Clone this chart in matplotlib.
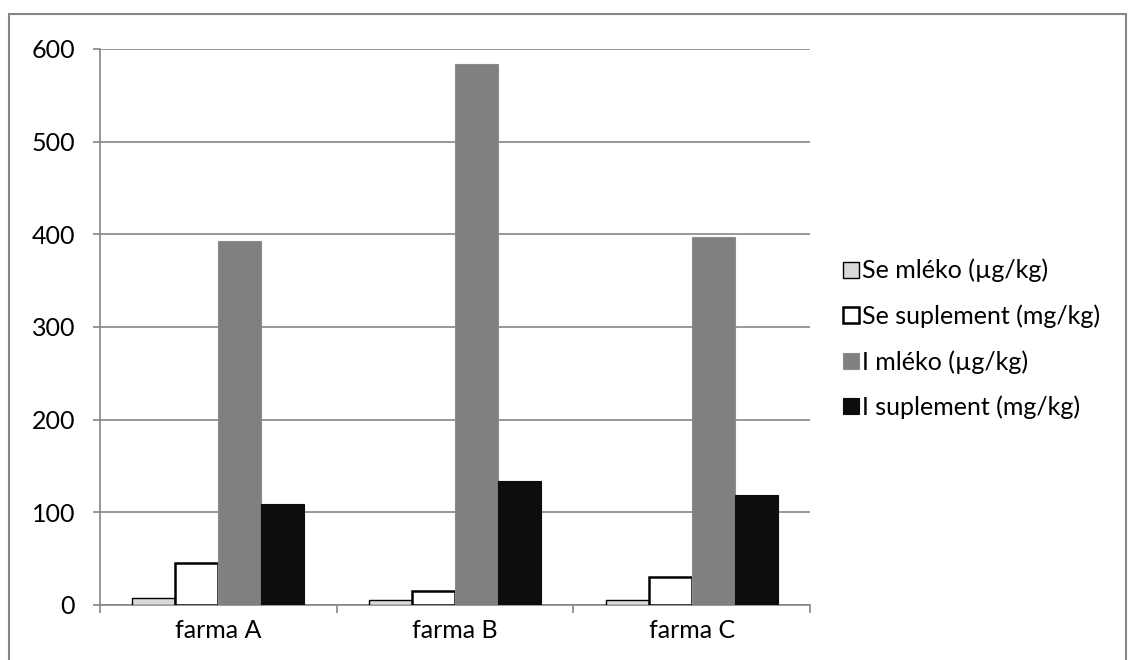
import matplotlib
matplotlib.use("Agg")
import matplotlib.pyplot as plt
from matplotlib.patches import Rectangle
import numpy as np

plt.rcParams['font.family'] = ['Lato', 'DejaVu Sans']

categories = ["farma A", "farma B", "farma C"]
series_names = ["Se mléko (µg/kg)", "Se suplement (mg/kg)", "I mléko (µg/kg)", "I suplement (mg/kg)"]
se_mleko = [8, 5, 5]
se_suplement = [45, 15, 30]
i_mleko = [393, 584, 397]
i_suplement = [109, 134, 119]
y_ticks = [0, 100, 200, 300, 400, 500, 600]

series = [se_mleko, se_suplement, i_mleko, i_suplement]
faces = ["#D9D9D9", "#FFFFFF", "#808080", "#0D0D0D"]
edges = ["#000000", "#000000", "#8C8C8C", "#0D0D0D"]
lws = [1.0, 1.8, 0.8, 0.8]

FS = 18

fig = plt.figure(figsize=(11.34, 6.6), dpi=100)
fig.patches.append(Rectangle((9/1134, -0.1), (1126-9)/1134, 1.1 - 14/660,
                             transform=fig.transFigure, fill=False,
                             edgecolor="#868686", linewidth=1.5))
ax = fig.add_axes([100/1134, 1-605/660, 710/1134, 556/660])

x = np.arange(len(categories))
w = 0.182
for i, (vals, fc, ec, lw) in enumerate(zip(series, faces, edges, lws)):
    ax.bar(x + (i - 1.5) * w, vals, w, color=fc, edgecolor=ec, linewidth=lw,
           label=series_names[i], zorder=3)

ax.set_xlim(-0.5, 2.5)
ax.set_ylim(0, 600)
ax.set_yticks(y_ticks)
ax.set_yticklabels([str(t) for t in y_ticks], fontsize=FS)
ax.yaxis.grid(True, color="#868686", linewidth=1.2, zorder=0)
ax.set_xticks([-0.5, 0.5, 1.5, 2.5])
ax.set_xticklabels([])
ax.set_xticks(x, minor=True)
ax.set_xticklabels(categories, minor=True, fontsize=FS)
ax.tick_params(axis='x', which='minor', length=0, pad=10)
ax.tick_params(axis='x', which='major', length=6, color="#868686", width=1.2)
ax.tick_params(axis='y', length=5, color="#868686", width=1.2, pad=13)
for s in ["top", "right"]:
    ax.spines[s].set_visible(False)
for s in ["left", "bottom"]:
    ax.spines[s].set_color("#868686")
    ax.spines[s].set_linewidth(1.2)

leg = ax.legend(loc="center left", bbox_to_anchor=(843/1134, 1-339/660),
                bbox_transform=fig.transFigure, frameon=False, fontsize=FS,
                handlelength=0.62, handleheight=0.62, handletextpad=0.12,
                labelspacing=0.88, borderaxespad=0, borderpad=0)

fig.savefig("out.png", dpi=100)
